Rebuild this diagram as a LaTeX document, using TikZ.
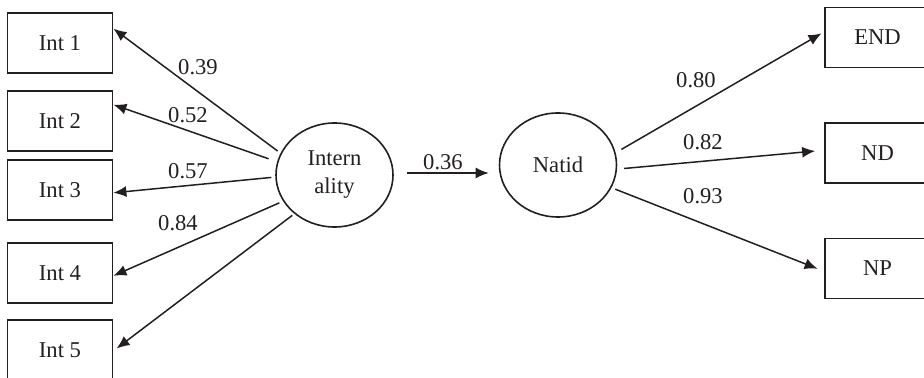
\documentclass[tikz,border=0pt]{standalone}
\usepackage{fontspec}
\setmainfont{Liberation Serif}
\usetikzlibrary{arrows.meta,shapes.geometric}
\definecolor{ink}{HTML}{231F20}
\tikzstyle{obs} = [draw=ink, line width=0.9pt, minimum width=52.5pt, minimum height=30pt, inner sep=0pt, text=ink]
\tikzstyle{lat} = [draw=ink, line width=0.8pt, ellipse, minimum width=58.5pt, minimum height=52pt, inner sep=0pt, align=center, text=ink]
\tikzstyle{load} = [text=ink, inner sep=0pt]
\tikzstyle{arr} = [->, draw=ink, line width=0.75pt, shorten <=2pt]

\begin{document}
\begin{tikzpicture}[x=0.5pt, y=-0.5pt, font=\fontsize{11.3}{14}\selectfont, >={Latex[length=6.5pt,width=5.5pt]}]
  \useasboundingbox (0,0) rectangle (924,378);
  \clip (0,0) rectangle (924,378);
  \node (i1) at ( 60,43) [obs] {Int 1};
  \node (i2) at ( 60,121) [obs] {Int 2};
  \node (i3) at ( 60,190) [obs] {Int 3};
  \node (i4) at ( 60,273) [obs] {Int 4};
  \node (i5) at ( 60,350) [obs] {Int 5};
  \node (intl) at ( 334.5,175) [lat] {Intern\\ality};
  \node (nat) at ( 558,165) [lat] {Natid};
  \node (ed) at ( 877.5,37.5) [obs] {END};
  \node (nd) at ( 877.5,153) [obs] {ND};
  \node (np) at ( 877.5,268.5) [obs] {NP};
  % loadings
  \node (l1) at ( 198,67) [load] {0.39};
  \node (l2) at ( 188,115) [load] {0.52};
  \node (l3) at ( 188,171) [load] {0.57};
  \node (l4) at ( 178,223) [load] {0.84};
  \node (l6) at ( 443,162) [load] {0.36};
  \node (l7) at ( 696,80) [load] {0.80};
  \node (l8) at ( 703,142) [load] {0.82};
  \node (l9) at ( 703,196) [load] {0.93};
  \draw [arr, shorten <=1.8pt] (intl.158) to (i1.15);
  \draw [arr, shorten <=4.5pt] (intl.167) to (i2.17);
  \draw [arr] (intl.182) to (i3.-3);
  \draw [arr] (intl.207) to (i4.-3);
  \draw [arr, shorten <=1.3pt, shorten >=2pt] (intl.224) to (i5.-1);
  \draw [arr, shorten <=6.5pt, shorten >=5pt] ([yshift=1pt]intl.east) to ([yshift=1pt]intl.east -| nat.west);
  \draw [arr, shorten <=3.3pt, shorten >=1.5pt] (nat.12) to (ed.174);
  \draw [arr, shorten <=3.5pt, shorten >=4.5pt] (nat.-4) to (nd.177);
  \draw [arr, shorten >=3.5pt] (nat.-23) to (np.183);
\end{tikzpicture}
\end{document}
